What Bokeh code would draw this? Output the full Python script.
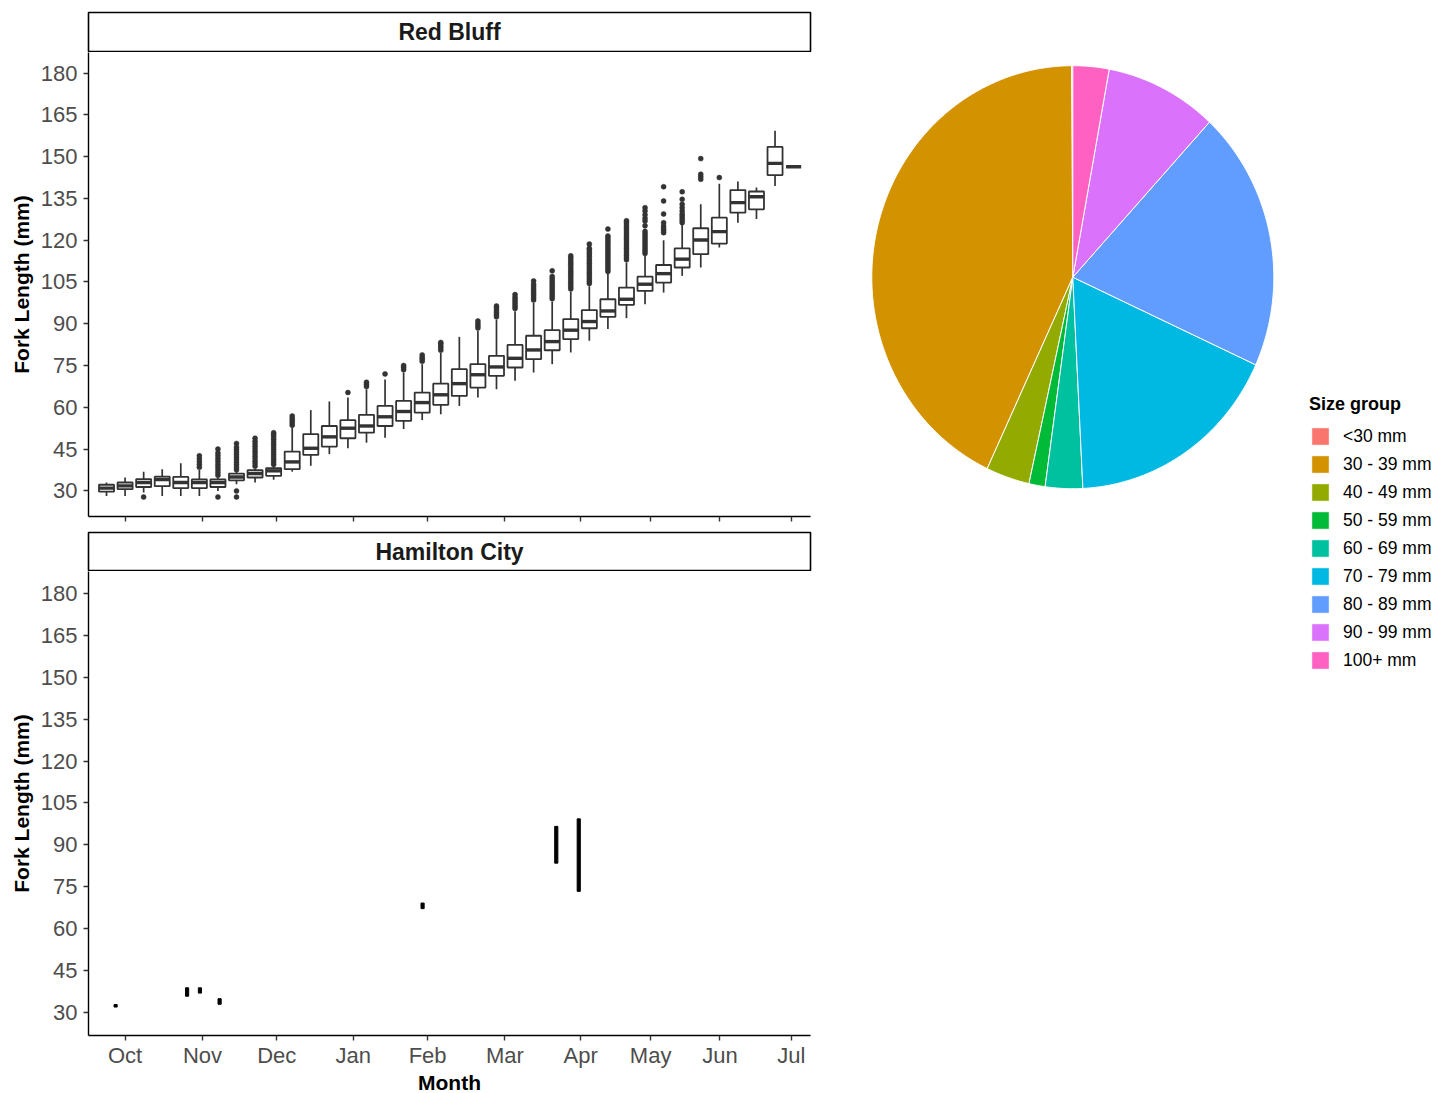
import numpy as np
from bokeh.plotting import figure
from bokeh.models import (Range1d, FixedTicker, CustomJSTickFormatter, Label,
                          Legend, LegendItem, ColumnDataSource)
from bokeh.layouts import column, row
from bokeh.embed import file_html
from bokeh.resources import INLINE

FONT = "Liberation Sans"

# ------------------------------------------------------------------ data
month_labels = ["Oct", "Nov", "Dec", "Jan", "Feb", "Mar", "Apr", "May", "Jun", "Jul"]
# month tick positions, expressed in weekly-bin units (week 0 = first bin)
month_ticks = [1.0, 5.17, 9.17, 13.29, 17.29, 21.45, 25.53, 29.30, 33.03, 36.88]
fl_ticks = [30, 45, 60, 75, 90, 105, 120, 135, 150, 165, 180]

# Red Bluff weekly boxplots
rb_week = list(range(38))
rb_q1 = [29.7, 30.6, 31.4, 31.7, 31.0, 31.0, 31.4, 33.8, 34.8, 35.4,
         37.8, 42.9, 45.9, 48.9, 50.9, 53.3, 55.1, 58.1, 60.9, 64.1,
         67.1, 71.3, 74.3, 77.3, 80.5, 84.5, 88.4, 92.5, 96.8, 101.8,
         104.8, 110.2, 115.0, 118.8, 129.9, 131.1, 143.4, 146.4]
rb_med = [31.0, 31.8, 33.0, 34.1, 33.0, 33.0, 33.0, 35.0, 36.2, 37.2,
          40.4, 45.3, 49.4, 52.5, 53.3, 56.6, 58.5, 61.7, 64.5, 68.5,
          71.7, 74.5, 77.6, 80.6, 83.6, 87.7, 90.8, 94.6, 98.8, 104.2,
          108.0, 113.2, 120.1, 123.1, 133.5, 135.6, 147.6, 146.4]
rb_q3 = [32.2, 33.0, 34.2, 35.1, 35.0, 34.1, 34.1, 36.2, 37.4, 38.2,
         44.1, 50.4, 53.3, 55.4, 57.3, 60.5, 62.3, 65.3, 68.5, 73.7,
         75.5, 78.5, 82.4, 85.7, 87.7, 91.7, 94.9, 98.8, 103.0, 106.9,
         111.1, 117.1, 124.3, 128.1, 138.0, 137.5, 153.5, 146.4]
rb_lo = [28.2, 28.2, 29.4, 28.2, 28.2, 28.2, 30.0, 32.4, 33.0, 34.0,
         36.9, 39.0, 43.2, 45.3, 47.3, 49.1, 52.2, 55.4, 57.5, 60.5,
         63.5, 66.5, 69.5, 72.5, 75.5, 79.7, 83.9, 88.1, 92.0, 97.0,
         101.2, 107.2, 110.2, 117.4, 126.3, 127.6, 139.5, 146.4]
rb_hi = [33.0, 34.8, 36.9, 37.8, 39.9, 37.5, 34.8, 36.8, 38.0, 38.8,
         52.8, 59.0, 62.1, 63.5, 66.5, 70.0, 72.5, 75.5, 79.5, 85.3,
         87.5, 91.5, 94.5, 97.5, 98.0, 101.5, 103.5, 108.0, 112.0, 114.4,
         120.0, 125.8, 132.9, 140.3, 141.1, 138.9, 159.3, 146.4]
rb_outliers = {
    2: [27.8],
    5: [38.5, 39.5, 40.5, 41.5, 42.6],
    6: [27.8, 35.6, 36.6, 37.6, 38.6, 39.6, 40.6, 41.6, 42.6, 43.6, 45.0],
    7: [27.8, 30.0, 37.6, 38.5, 39.4, 40.3, 41.2, 42.1, 43.0, 43.9, 44.8, 45.7, 47.0],
    8: [38.8, 39.7, 40.6, 41.5, 42.4, 43.3, 44.2, 45.1, 46.0, 46.9, 47.8, 48.9],
    9: [39.5, 40.4, 41.3, 42.2, 43.1, 44.0, 44.9, 45.8, 46.7, 47.6, 48.5, 49.4, 50.2, 50.9],
    10: [53.6, 54.4, 55.2, 56.0, 56.9],
    13: [65.3],
    14: [67.5, 68.3, 69.0],
    15: [72.0],
    16: [73.5, 74.3, 75.0],
    17: [76.5, 77.3, 78.0, 78.8],
    18: [80.5, 81.3, 82.0, 82.8, 83.3],
    20: [88.5, 89.3, 90.1, 91.0],
    21: [92.5, 93.3, 94.1, 94.9, 95.7, 96.4],
    22: [95.5, 96.3, 97.1, 97.9, 98.7, 99.5, 100.5],
    23: [98.5, 99.3, 100.1, 100.9, 101.7, 102.5, 103.3, 104.2, 105.4],
    24: [99.0, 99.8, 100.6, 101.4, 102.2, 103.0, 103.8, 104.6, 105.4, 106.2, 107.0, 109.0],
    25: [102.5, 103.3, 104.1, 104.9, 105.7, 106.5, 107.3, 108.1, 108.9, 109.7,
         110.5, 111.3, 112.1, 112.9, 113.7, 114.4],
    26: [104.5, 105.3, 106.1, 106.9, 107.7, 108.5, 109.3, 110.1, 110.9, 111.7,
         112.5, 113.3, 114.1, 114.9, 115.7, 116.5, 117.1, 118.6],
    27: [108.8, 109.6, 110.4, 111.2, 112.0, 112.8, 113.6, 114.4, 115.2, 116.0,
         116.8, 117.6, 118.4, 119.2, 120.0, 120.8, 121.5, 124.0],
    28: [113.0, 113.8, 114.6, 115.4, 116.2, 117.0, 117.8, 118.6, 119.4, 120.2,
         121.0, 121.8, 122.6, 123.4, 124.2, 125.0, 125.8, 126.5, 127.0],
    29: [115.2, 116.0, 116.8, 117.6, 118.4, 119.2, 120.0, 120.8, 121.6, 122.4,
         123.2, 125.2, 126.9, 127.9, 129.1, 130.5, 131.7],
    30: [122.7, 123.5, 124.3, 125.1, 126.3, 129.4, 134.1, 139.2],
    31: [126.3, 127.1, 127.9, 128.7, 129.4, 130.5, 131.7, 132.9, 134.7, 137.4],
    32: [141.9, 142.8, 143.7, 149.3],
    33: [142.5],
}

# Hamilton City (few catches)
hc_x = [0.49, 4.34, 5.03, 6.09, 17.02, 24.22, 25.43]
hc_lo = [31.8, 35.7, 36.8, 32.8, 67.1, 83.4, 73.3]
hc_hi = [32.7, 38.7, 38.7, 34.8, 69.1, 96.6, 99.3]

# Size-group composition (percent)
size_groups = ["<30 mm", "30 - 39 mm", "40 - 49 mm", "50 - 59 mm", "60 - 69 mm",
               "70 - 79 mm", "80 - 89 mm", "90 - 99 mm", "100+ mm"]
size_pct = [0.1, 42.9, 3.5, 1.3, 3.0, 17.4, 19.9, 9.0, 2.9]
size_colors = ["#F8766D", "#D39200", "#93AA00", "#00BA38", "#00C19F",
               "#00B9E3", "#619CFF", "#DB72FB", "#FF61C3"]

# ------------------------------------------------------------------ styling helpers
TICK_COL = "#4D4D4D"
BOX_COL = "#333333"
X_RANGE = (-0.97, 37.91)
BOX_W = 0.81
LEFT = 88
RIGHT = 18


def style_panel(p, show_xlabels):
    p.xgrid.visible = False
    p.ygrid.visible = False
    p.outline_line_color = None
    p.background_fill_color = "white"
    for ax in (p.xaxis[0], p.yaxis[0]):
        ax.axis_line_color = "black"
        ax.axis_line_width = 1.4
        ax.major_tick_line_color = BOX_COL
        ax.major_tick_line_width = 1.4
        ax.major_tick_out = 5
        ax.major_tick_in = 0
        ax.minor_tick_out = 0
        ax.minor_tick_in = 0
        ax.major_label_text_font = FONT
        ax.major_label_text_font_size = "22px"
        ax.major_label_text_color = TICK_COL
        ax.axis_label_text_font = FONT
        ax.axis_label_text_font_style = "bold"
        ax.axis_label_text_font_size = "21px"
        ax.axis_label_text_color = "black"
    p.yaxis.ticker = FixedTicker(ticks=fl_ticks)
    p.yaxis.major_label_standoff = 6
    p.yaxis.axis_label = "Fork Length (mm)"
    p.yaxis.axis_label_standoff = 5
    p.xaxis.ticker = FixedTicker(ticks=month_ticks)
    if show_xlabels:
        p.xaxis.formatter = CustomJSTickFormatter(args=dict(labels=month_labels),
                                                  code="return labels[index];")
        p.xaxis.major_label_standoff = 2
        p.xaxis.axis_label = "Month"
        p.xaxis.axis_label_standoff = 0
    else:
        # facet above the bottom one: ticks only, no labels
        p.xaxis.formatter = CustomJSTickFormatter(code="return '';")
        p.xaxis.major_label_text_font_size = "1px"
        p.xaxis.major_label_standoff = 0


def strip(label, fh, top, bottom):
    s = figure(frame_width=722, frame_height=fh, x_range=Range1d(0, 1), y_range=Range1d(0, 1),
               min_border_left=LEFT, min_border_right=RIGHT, min_border_top=top,
               min_border_bottom=bottom, x_axis_location=None, y_axis_location=None,
               toolbar_location=None, output_backend="svg")
    s.xgrid.visible = False
    s.ygrid.visible = False
    s.outline_line_color = "black"
    s.outline_line_width = 1.6
    s.add_layout(Label(x=0.5, y=0.5, text=label, text_align="center", text_baseline="middle",
                       text_font=FONT, text_font_style="bold", text_font_size="23px",
                       text_color="#1A1A1A"))
    return s


# ------------------------------------------------------------------ Red Bluff panel
p1 = figure(frame_width=722, frame_height=464, x_range=Range1d(*X_RANGE),
            y_range=Range1d(20.8, 187.4), min_border_left=LEFT, min_border_right=RIGHT,
            min_border_top=0, min_border_bottom=12, toolbar_location=None,
            output_backend="svg")
style_panel(p1, False)

wk = np.array(rb_week, dtype=float)
src = ColumnDataSource(dict(x=wk, q1=rb_q1, med=rb_med, q3=rb_q3, lo=rb_lo, hi=rb_hi,
                            xl=wk - BOX_W / 2, xr=wk + BOX_W / 2))
p1.segment(x0="x", y0="q3", x1="x", y1="hi", source=src, line_color=BOX_COL, line_width=1.7)
p1.segment(x0="x", y0="q1", x1="x", y1="lo", source=src, line_color=BOX_COL, line_width=1.7)
p1.vbar(x="x", width=BOX_W, top="q3", bottom="q1", source=src, fill_color="white",
        line_color=BOX_COL, line_width=1.8)
p1.segment(x0="xl", y0="med", x1="xr", y1="med", source=src, line_color=BOX_COL,
           line_width=3.4, line_cap="butt")

ox, oy = [], []
for w, vals in rb_outliers.items():
    for v in vals:
        ox.append(w)
        oy.append(v)
p1.scatter(ox, oy, size=5, fill_color=BOX_COL, line_color=BOX_COL, line_width=0.5)

# ------------------------------------------------------------------ Hamilton City panel
p2 = figure(frame_width=722, frame_height=464, x_range=Range1d(*X_RANGE),
            y_range=Range1d(21.6, 188.0), min_border_left=LEFT, min_border_right=RIGHT,
            min_border_top=0, min_border_bottom=50, toolbar_location=None,
            output_backend="svg")
style_panel(p2, True)
p2.vbar(x=hc_x, width=0.17, bottom=hc_lo, top=hc_hi, fill_color="black",
        line_color="black", line_width=1)

s1 = strip("Red Bluff", 39, 12, 1)
s2 = strip("Hamilton City", 38, 4, 1)

# ------------------------------------------------------------------ pie
PW, PH = 611, 700
pie = figure(frame_width=PW, frame_height=PH, x_range=Range1d(0, PW),
             y_range=Range1d(PH, 0), min_border=0, x_axis_location=None,
             y_axis_location=None, toolbar_location=None, output_backend="svg")
pie.xgrid.visible = False
pie.ygrid.visible = False
pie.outline_line_color = None

cx, cy, rx, ry = 244.3, 276.7, 201.0, 211.5
total = float(sum(size_pct))
n = len(size_groups)
xs = [None] * n
ys = [None] * n
start = 0.0
for i in reversed(range(n)):          # clockwise from 12 o'clock, last level first
    frac = size_pct[i] / total
    t = np.linspace(start * 2 * np.pi, (start + frac) * 2 * np.pi,
                    max(3, int(frac * 720) + 3))
    xs[i] = [cx] + list(cx + rx * np.sin(t))
    ys[i] = [cy] + list(cy - ry * np.cos(t))
    start += frac
psrc = ColumnDataSource(dict(xs=xs, ys=ys, color=size_colors, group=size_groups))
pr = pie.patches("xs", "ys", source=psrc, fill_color="color", line_color="white",
                 line_width=1)

legend = Legend(items=[LegendItem(label=g, renderers=[pr], index=i)
                       for i, g in enumerate(size_groups)],
                location=(481, 29), title="Size group")
legend.title_text_font = FONT
legend.title_text_font_style = "bold"
legend.title_text_font_size = "18px"
legend.title_text_color = "black"
legend.title_standoff = 10
legend.label_text_font = FONT
legend.label_text_font_size = "17.5px"
legend.label_text_color = "black"
legend.glyph_width = 22
legend.glyph_height = 22
legend.label_height = 22
legend.spacing = 6
legend.label_standoff = 12
legend.padding = 0
legend.margin = 0
legend.border_line_color = None
legend.background_fill_alpha = 0
pie.add_layout(legend)

layout = row(column(s1, p1, s2, p2, spacing=0), pie, spacing=0)
open("out.html", "w").write(file_html(layout, INLINE))
